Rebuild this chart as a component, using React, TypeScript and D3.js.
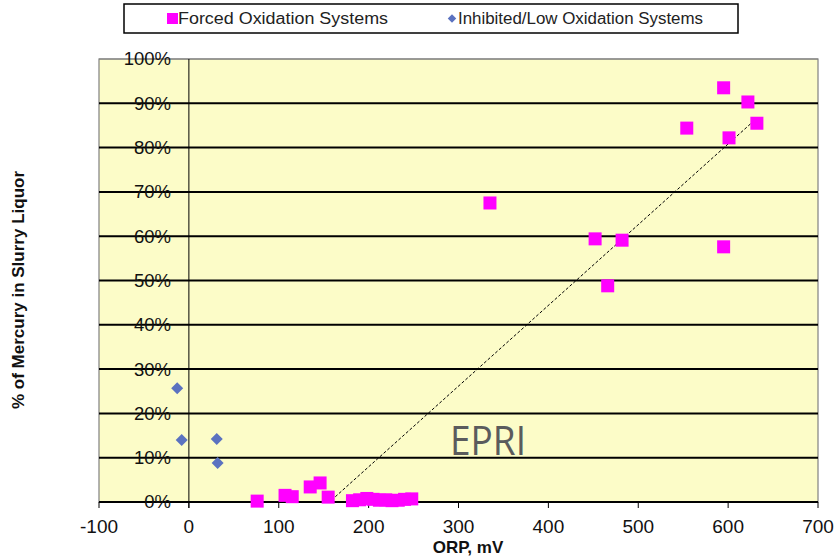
import React from "react";
import * as d3 from "d3";

const forcedX = [76, 107, 115, 135, 146, 155, 182, 190, 198, 205, 212, 219, 226, 233, 240, 248, 335, 452, 466, 482, 554, 595, 595, 601, 622, 632];
const forcedY = [0.2, 1.5, 1.2, 3.4, 4.3, 1.1, 0.3, 0.5, 0.8, 0.6, 0.4, 0.5, 0.3, 0.4, 0.6, 0.7, 67.5, 59.4, 48.8, 59.1, 84.4, 93.5, 57.6, 82.2, 90.3, 85.5];
const inhibitedX = [-13, -8, 31, 32];
const inhibitedY = [25.7, 14.0, 14.2, 8.8];
const xTicks = [-100, 0, 100, 200, 300, 400, 500, 600, 700];
const yTicks = [0, 10, 20, 30, 40, 50, 60, 70, 80, 90, 100];
const trendSlope = 0.1822;
const trendIntercept = -28.5;
const trendRange = [76, 632];

const W = 839, H = 560;
const L = 99, R = 818, T = 59, B = 502;

export default function App() {
  const x = d3.scaleLinear().domain([-100, 700]).range([L, R]);
  const y = d3.scaleLinear().domain([0, 100]).range([B, T]);
  const trendLine = d3.line<number>().x((v) => x(v)).y((v) => y(trendSlope * v + trendIntercept));
  const diamond = d3.symbol().type(d3.symbolSquare).size(72)();
  const legendDiamond = d3.symbol().type(d3.symbolSquare).size(36)();
  const font = "'Liberation Sans', Arial, sans-serif";
  const sq = 13;
  return (
    <svg width={W} height={H} style={{ position: "absolute", left: 0, top: 0, background: "#fff" }}>
      <defs>
        <clipPath id="plotclip">
          <rect x={L} y={T} width={R - L} height={B - T} />
        </clipPath>
      </defs>
      <rect x={0} y={0} width={W} height={H} fill="#ffffff" />
      <rect x={L} y={T} width={R - L} height={B - T} fill="#fcfcc8" stroke="#808080" strokeWidth={1.2} />
      {yTicks.filter((t) => t > 0 && t < 100).map((t) => (
        <line key={"g" + t} x1={L} x2={R} y1={y(t)} y2={y(t)} stroke="#000" strokeWidth={2} />
      ))}
      <line x1={L} x2={R} y1={y(100)} y2={y(100)} stroke="#808080" strokeWidth={1.2} />
      <line x1={x(0)} x2={x(0)} y1={T} y2={B + 6} stroke="#000" strokeWidth={1} />
      <line x1={L} x2={R} y1={B} y2={B} stroke="#000" strokeWidth={2} />
      {xTicks.map((t) => (
        <line key={"xt" + t} x1={x(t)} x2={x(t)} y1={B} y2={B + 6} stroke="#000" strokeWidth={1} />
      ))}
      {xTicks.map((t) => (
        <text key={"xl" + t} x={x(t)} y={533} textAnchor="middle" fontFamily={font} fontSize={19} fill="#111">
          {t}
        </text>
      ))}
      {yTicks.map((t) => (
        <text key={"yl" + t} x={171} y={y(t)} dy="0.35em" textAnchor="end" fontFamily={font} fontSize={18.5} fill="#111">
          {t + "%"}
        </text>
      ))}
      <g clipPath="url(#plotclip)">
        <path d={trendLine(trendRange) || ""} fill="none" stroke="#000" strokeWidth={1} strokeDasharray="3,2" />
      </g>
      {inhibitedX.map((v, i) => (
        <path key={"d" + i} d={diamond || ""} transform={`translate(${x(v)},${y(inhibitedY[i])}) rotate(45)`} fill="#5b72c0" />
      ))}
      {forcedX.map((v, i) => (
        <rect key={"s" + i} x={x(v) - sq / 2} y={y(forcedY[i]) - sq / 2} width={sq} height={sq} fill="#ff00ff" />
      ))}
      <text x={488} y={455} textAnchor="middle" fontFamily="'Open Sans', 'Noto Sans', sans-serif" fontSize={40} fill="#5a5b5d" textLength={76} lengthAdjust="spacingAndGlyphs">
        EPRI
      </text>
      <text x={468} y={553} textAnchor="middle" fontFamily={font} fontSize={17} fontWeight="bold" fill="#111">
        ORP, mV
      </text>
      <text transform={`translate(24,${290}) rotate(-90)`} textAnchor="middle" fontFamily={font} fontSize={17} fontWeight="bold" fill="#111">
        % of Mercury in Slurry Liquor
      </text>
      <rect x={124} y={4} width={614} height={29} fill="#fff" stroke="#000" strokeWidth={1.5} />
      <rect x={167} y={13} width={11} height={11} fill="#ff00ff" />
      <text x={178} y={24} fontFamily={font} fontSize={16} fill="#222" textLength={210} lengthAdjust="spacingAndGlyphs">
        Forced Oxidation Systems
      </text>
      <path d={legendDiamond || ""} transform="translate(452,18.5) rotate(45)" fill="#5b72c0" />
      <text x={458} y={24} fontFamily={font} fontSize={16} fill="#222" textLength={245} lengthAdjust="spacingAndGlyphs">
        Inhibited/Low Oxidation Systems
      </text>
    </svg>
  );
}
